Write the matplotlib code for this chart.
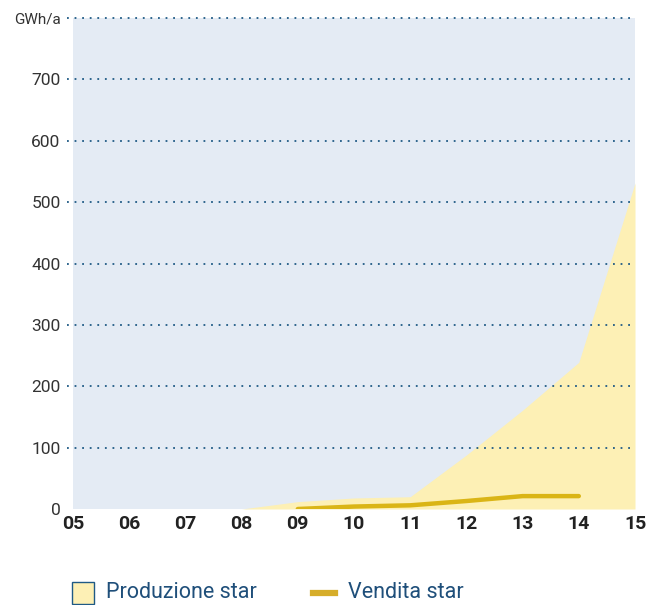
import numpy as np
import matplotlib.pyplot as plt
from matplotlib.patches import Rectangle
from matplotlib.lines import Line2D

plt.rcParams['font.family'] = ['Roboto', 'DejaVu Sans']

# Dati (GWh/a)
anni = ['05', '06', '07', '08', '09', '10', '11', '12', '13', '14', '15']
produzione = [0, 0, 0, 0, 12, 18, 20, 88, 161, 239, 531]
anni_vendita = ['09', '10', '11', '12', '13', '14']
vendita = [0, 4, 6, 13, 21, 21]

y_ticks = [0, 100, 200, 300, 400, 500, 600, 700, 800]
y_labels = ['0', '100', '200', '300', '400', '500', '600', '700', 'GWh/a']

x = np.arange(len(anni))
x_vendita = [anni.index(a) for a in anni_vendita]

W, H = 652, 605
fig = plt.figure(figsize=(W / 100, H / 100), dpi=100)
ax = fig.add_axes([73 / W, 1 - 509 / H, 562 / W, 491 / H])
ax.set_facecolor('#e4ebf4')

ax.fill_between(x, produzione, color='#fdf0b5', lw=0, zorder=2)
ax.plot(x_vendita, vendita, color='#dab516', lw=3.2, solid_capstyle='round', zorder=3)

# griglia tratteggiata
for v in y_ticks[1:]:
    ax.axhline(v, xmin=-0.01, xmax=1, color='#1f5a85', lw=1.3,
               linestyle=(0, (1, 3.2)), clip_on=False, zorder=4)

ax.set_xlim(0, 10)
ax.set_ylim(0, 800)
ax.set_xticks(x)
ax.set_xticklabels(anni, fontsize=14, fontweight='bold', color='#222222')
ax.set_yticks(y_ticks)
ax.set_yticklabels(y_labels, fontsize=12.5, color='#333333')
for lab in ax.get_yticklabels():
    if lab.get_text() == 'GWh/a':
        lab.set_fontsize(11)
ax.tick_params(axis='both', length=0)
ax.tick_params(axis='y', pad=9)
ax.tick_params(axis='x', pad=4)
for s in ax.spines.values():
    s.set_visible(False)

# legenda
fig.patches.append(Rectangle((72 / W, 1 / H), 22 / W, 22 / H, transform=fig.transFigure,
                             facecolor='#fdf0b5', edgecolor='#1f5a85', lw=1.0))
fig.text(106 / W, 1 - 593 / H, 'Produzione star', fontsize=15.5, color='#1f4f7a',
         va='center', ha='left')
fig.lines.append(Line2D([313 / W, 335 / W], [1 - 593 / H, 1 - 593 / H],
                        transform=fig.transFigure, color='#d6ad2a', lw=4.5))
fig.text(348 / W, 1 - 593 / H, 'Vendita star', fontsize=15.5, color='#1f4f7a',
         va='center', ha='left')

fig.savefig('out.png', dpi=100)
